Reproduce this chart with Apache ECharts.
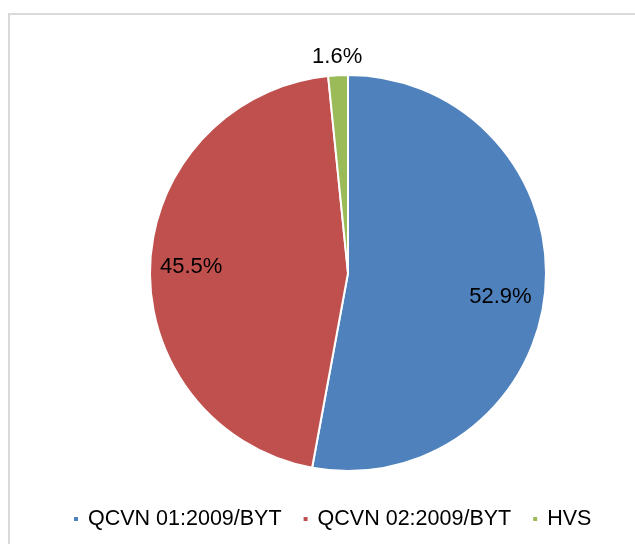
<!DOCTYPE html>
<html>
<head>
<meta charset="utf-8">
<script src="https://cdn.jsdelivr.net/npm/echarts@6/dist/echarts.min.js"></script>
<style>
html,body{margin:0;padding:0;background:#fff;}
#chart{width:635px;height:544px;}
</style>
</head>
<body>
<div id="chart"></div>
<script>
const categories = ['QCVN 01:2009/BYT', 'QCVN 02:2009/BYT', 'HVS'];
const values = [52.9, 45.5, 1.6];
const colors = ['#4F81BD', '#C0504D', '#9BBB59'];
const labelInside = [true, true, false];

const chart = echarts.init(document.getElementById('chart'));
const R = 198;
const center = [348, 273];
const font = 'Arial, "Liberation Sans", sans-serif';

const mainData = categories.map((c, i) => ({ name: c, value: values[i], itemStyle: { color: colors[i] } }));
const innerLabelData = categories.map((c, i) => ({
  name: c, value: values[i],
  label: { show: labelInside[i] }
}));
const outerLabelData = categories.map((c, i) => ({
  name: c, value: values[i],
  label: { show: !labelInside[i] }
}));
const labelStyle = {
  position: 'inside',
  formatter: p => p.value.toFixed(1) + '%',
  color: '#000',
  fontSize: 22,
  fontFamily: font
};

chart.setOption({
  animation: false,
  graphic: [{
    type: 'rect',
    shape: { x: 9, y: 14, width: 640, height: 540 },
    style: { fill: 'none', stroke: '#d9d9d9', lineWidth: 2 },
    silent: true
  }],
  legend: {
    data: categories,
    bottom: 14,
    left: 72,
    padding: 0,
    icon: 'rect',
    itemWidth: 6,
    itemHeight: 6,
    itemGap: 20,
    textStyle: { color: '#000', fontSize: 21.5, fontFamily: font, padding: [0, 0, 0, 4] }
  },
  series: [
    {
      type: 'pie',
      center: center,
      radius: [0, R],
      startAngle: 90,
      clockwise: true,
      data: mainData,
      itemStyle: { borderColor: '#fff', borderWidth: 2 },
      label: { show: false },
      labelLine: { show: false },
      emphasis: { disabled: true }
    },
    {
      type: 'pie',
      center: center,
      radius: [110, R],
      startAngle: 90,
      clockwise: true,
      silent: true,
      data: innerLabelData,
      itemStyle: { color: 'rgba(0,0,0,0)' },
      label: labelStyle,
      labelLine: { show: false },
      labelLayout: p => (p.dataIndex === 0 ? { dx: -4, dy: 10 } : {}),
      emphasis: { disabled: true }
    },
    {
      type: 'pie',
      center: center,
      radius: [200, 226],
      startAngle: 90,
      clockwise: true,
      silent: true,
      data: outerLabelData,
      itemStyle: { color: 'rgba(0,0,0,0)' },
      label: labelStyle,
      labelLine: { show: false },
      emphasis: { disabled: true }
    }
  ]
});
</script>
</body>
</html>
